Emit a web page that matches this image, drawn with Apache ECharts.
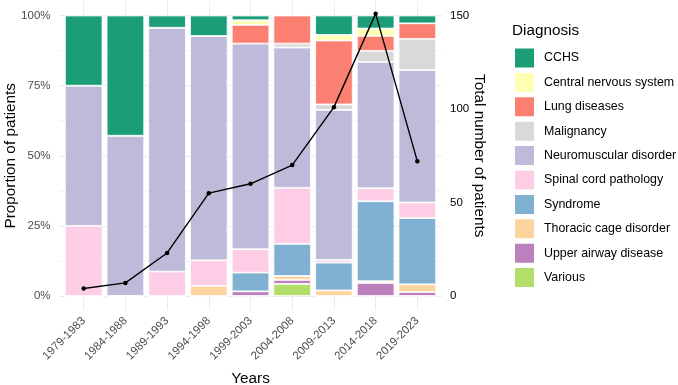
<!DOCTYPE html>
<html><head><meta charset="utf-8">
<script src="https://cdn.jsdelivr.net/npm/echarts@6/dist/echarts.min.js"></script>
<style>html,body{margin:0;padding:0;background:#fff}#c{width:678px;height:385px}</style>
</head><body><div id="c"></div>
<script>
// ---- data ----
const categories = ['1979-1983','1984-1988','1989-1993','1994-1998','1999-2003','2004-2008','2009-2013','2014-2018','2019-2023'];
// patient counts per diagnosis per period
const cchs          = [1,3,1,4,1,0,7,7,2];
const cns           = [0,0,0,0,1,0,2,4,0];
const lung          = [0,0,0,0,4,7,23,8,4];
const malignancy    = [0,0,0,0,0,1,2,6,8];
const neuromuscular = [2,4,20,44,44,35,54,68,34];
const spinal        = [1,0,2,5,5,14,1,7,4];
const syndrome      = [0,0,0,0,4,8,10,43,17];
const thoracic      = [0,0,0,2,0,1,2,1,2];
const upperAirway   = [0,0,0,0,1,1,0,7,1];
const various       = [0,0,0,0,0,3,0,0,0];
const leftTicks  = [0,0.25,0.5,0.75,1];
const leftMinor  = [0.125,0.375,0.625,0.875];
const rightTicks = [0,50,100,150];

// legend order (top of stack first)
const diagnoses = [
  {name:'CCHS', values:cchs, color:'#1B9E77'},
  {name:'Central nervous system', values:cns, color:'#FFFFB3'},
  {name:'Lung diseases', values:lung, color:'#FB8072'},
  {name:'Malignancy', values:malignancy, color:'#D9D9D9'},
  {name:'Neuromuscular disorder', values:neuromuscular, color:'#BEBADA'},
  {name:'Spinal cord pathology', values:spinal, color:'#FCCDE5'},
  {name:'Syndrome', values:syndrome, color:'#80B1D3'},
  {name:'Thoracic cage disorder', values:thoracic, color:'#FDD49E'},
  {name:'Upper airway disease', values:upperAirway, color:'#BC80BD'},
  {name:'Various', values:various, color:'#B3DE69'}
];
const totals = categories.map((_, i) => diagnoses.reduce((s, d) => s + d.values[i], 0));

const FONT = '"Liberation Sans", Arial, sans-serif';
const chart = echarts.init(document.getElementById('c'), null, {renderer:'canvas'});

const barSeries = diagnoses.slice().reverse().map(d => ({
  name: d.name, type: 'bar', stack: 'p', xAxisIndex: 0, yAxisIndex: 0,
  barWidth: '90%',
  itemStyle: {color: d.color, borderColor: '#fff', borderWidth: 0.8},
  emphasis: {disabled: true},
  data: d.values.map((v, i) => v / totals[i])
}));

const option = {
  animation: false,
  textStyle: {fontFamily: FONT},
  title: {text: 'Diagnosis', left: 512, top: 23, padding: 0,
    textStyle: {fontSize: 15.3, fontWeight: 'normal', color: '#000', fontFamily: FONT}},
  legend: {
    data: diagnoses.map(d => d.name), orient: 'vertical', left: 513, top: 46.5,
    itemWidth: 21, itemHeight: 21, itemGap: 1.4, icon: 'rect', padding: 0,
    textStyle: {fontSize: 12.4, color: '#000', fontFamily: FONT, padding: [0,0,0,4]},
    selectedMode: false
  },
  grid: [
    {left: 62.85, right: 239.8, top: 1.5, bottom: 75, outerBoundsMode: 'none', containLabel: false},
    {left: 59.5, right: 236, top: 1.5, bottom: 75, outerBoundsMode: 'none', containLabel: false}
  ],
  xAxis: [
    {type: 'category', gridIndex: 0, data: categories,
      axisLine: {show: false}, axisTick: {show: false},
      splitLine: {show: true, alignWithLabel: true, lineStyle: {color: '#EBEBEB', width: 1}},
      axisLabel: {rotate: 45, color: '#4D4D4D', fontSize: 11.5, margin: 9, interval: 0, fontFamily: FONT},
      name: 'Years', nameLocation: 'middle', nameGap: 61, nameMoveOverlap: false,
      nameTextStyle: {fontSize: 15.3, color: '#000', fontFamily: FONT}},
    {type: 'value', gridIndex: 1, min: 0, max: 1, show: false}
  ],
  yAxis: [
    {type: 'value', gridIndex: 0, min: -0.05, max: 1.05, show: false},
    {type: 'value', gridIndex: 0, min: -7.5, max: 157.5, show: false, position: 'right'},
    {type: 'value', gridIndex: 1, min: -0.05, max: 1.05, position: 'left',
      axisLine: {show: false}, axisTick: {show: false, customValues: leftTicks},
      axisLabel: {customValues: leftTicks, formatter: v => Math.round(v * 100) + '%', color: '#4D4D4D', fontSize: 11.5, margin: 9, fontFamily: FONT},
      splitLine: {show: true, lineStyle: {color: '#EBEBEB', width: 1}},
      name: 'Proportion of patients', nameLocation: 'middle', nameGap: 41, nameRotate: 90, nameMoveOverlap: false,
      nameTextStyle: {fontSize: 15.3, color: '#000', fontFamily: FONT}},
    {type: 'value', gridIndex: 1, min: -7.5, max: 157.5, position: 'right',
      axisLine: {show: false}, axisTick: {show: false, customValues: rightTicks},
      axisLabel: {customValues: rightTicks, color: '#000', fontSize: 11.5, margin: 8, fontFamily: FONT},
      splitLine: {show: false},
      name: 'Total number of patients', nameLocation: 'middle', nameGap: 30, nameRotate: -90, nameMoveOverlap: false,
      nameTextStyle: {fontSize: 15.3, color: '#000', fontFamily: FONT}},
    {type: 'value', gridIndex: 1, min: -0.05, max: 1.05, position: 'left',
      axisLine: {show: false}, axisTick: {show: false, customValues: leftMinor},
      axisLabel: {show: false, customValues: leftMinor},
      splitLine: {show: true, lineStyle: {color: '#F3F3F3', width: 1}}}
  ],
  series: barSeries.concat([{
    name: 'Total', type: 'line', xAxisIndex: 0, yAxisIndex: 1, z: 10,
    data: totals, symbol: 'circle', symbolSize: 4.5, showSymbol: true,
    lineStyle: {color: '#000', width: 1.4}, itemStyle: {color: '#000'},
    emphasis: {disabled: true}
  }])
};
chart.setOption(option);
</script></body></html>
